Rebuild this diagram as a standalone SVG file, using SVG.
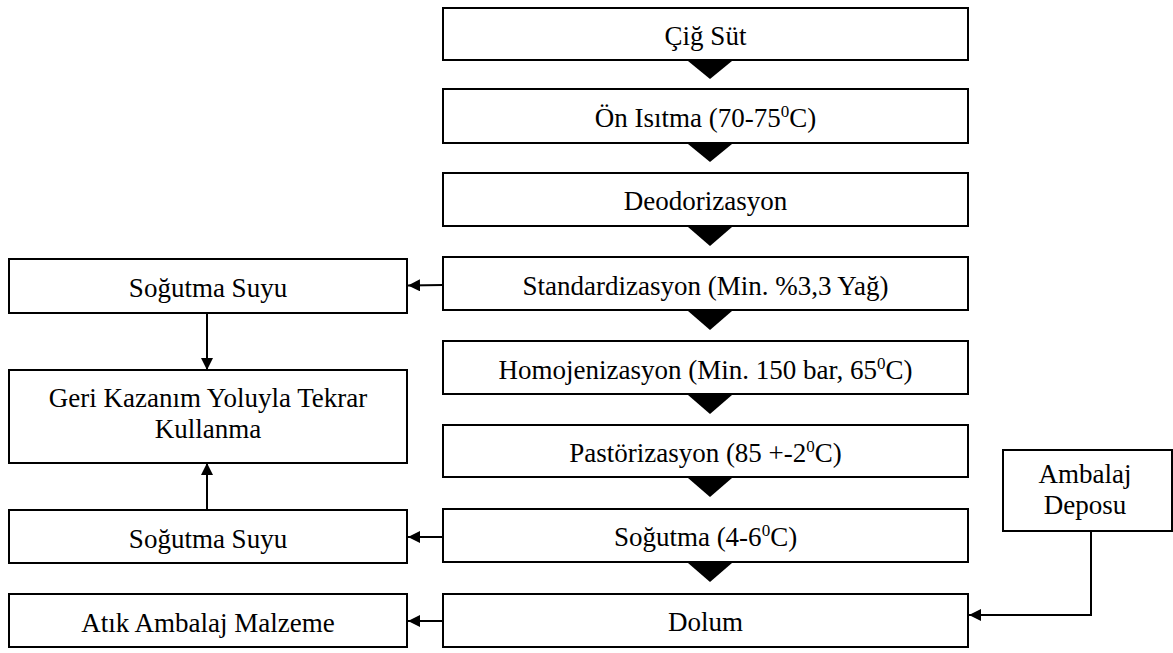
<svg xmlns="http://www.w3.org/2000/svg" width="1173" height="653" viewBox="0 0 1173 653">
<style>
.b{fill:#fff;stroke:#000;stroke-width:2}
.t{font-family:"Liberation Serif","Times New Roman",serif;font-size:27px;fill:#000;text-anchor:middle}
.s{font-size:17px}
.c{fill:none;stroke:#000;stroke-width:2}
.tri{fill:#000}
</style>
<defs>
<marker id="ah" viewBox="0 0 10 10" refX="10" refY="5" markerWidth="6" markerHeight="6" orient="auto" markerUnits="strokeWidth"><path d="M0,0 L10,5 L0,10 z" fill="#000"/></marker>
</defs>
<rect width="1173" height="653" fill="#fff"/>
<g id="connectors">
<polygon class="tri" points="688,61 732,61 710,79"/>
<polygon class="tri" points="688,144 732,144 710,162"/>
<polygon class="tri" points="688,227 732,227 710,246"/>
<polygon class="tri" points="688,311 732,311 710,330"/>
<polygon class="tri" points="688,395 732,395 710,414"/>
<polygon class="tri" points="688,478 732,478 710,497"/>
<polygon class="tri" points="688,563 732,563 710,582"/>
<path class="c" d="M443,285 L408,285.5" marker-end="url(#ah)"/>
<path class="c" d="M443,537 L408,537" marker-end="url(#ah)"/>
<path class="c" d="M443,621 L408,621" marker-end="url(#ah)"/>
<path class="c" d="M207,313 L207,370" marker-end="url(#ah)"/>
<path class="c" d="M207,510 L207,463" marker-end="url(#ah)"/>
<path class="c" d="M1091,531 L1091,615 L969,615" marker-end="url(#ah)"/>
</g>
<g id="n1"><rect class="b" x="443" y="8" width="525" height="52"/><text class="t" x="705.5" y="45">Çiğ Süt</text></g>
<g id="n2"><rect class="b" x="443" y="89" width="525" height="54"/><text class="t" x="705.5" y="126.5">Ön Isıtma (70-75<tspan class="s" dy="-10">0</tspan><tspan dy="10">C)</tspan></text></g>
<g id="n3"><rect class="b" x="443" y="173" width="525" height="53"/><text class="t" x="705.5" y="210">Deodorizasyon</text></g>
<g id="n4"><rect class="b" x="443" y="257" width="525" height="53"/><text class="t" x="705.5" y="294.5">Standardizasyon (Min. %3,3 Yağ)</text></g>
<g id="n5"><rect class="b" x="443" y="341" width="525" height="53"/><text class="t" x="705.5" y="378.5">Homojenizasyon (Min. 150 bar, 65<tspan class="s" dy="-10">0</tspan><tspan dy="10">C)</tspan></text></g>
<g id="n6"><rect class="b" x="443" y="425" width="525" height="52"/><text class="t" x="705.5" y="462">Pastörizasyon (85 +-2<tspan class="s" dy="-10">0</tspan><tspan dy="10">C)</tspan></text></g>
<g id="n7"><rect class="b" x="443" y="509" width="525" height="53"/><text class="t" x="705.5" y="546">Soğutma (4-6<tspan class="s" dy="-10">0</tspan><tspan dy="10">C)</tspan></text></g>
<g id="n8"><rect class="b" x="443" y="594" width="525" height="53"/><text class="t" x="705.5" y="631">Dolum</text></g>
<g id="l1"><rect class="b" x="9" y="259" width="398" height="54"/><text class="t" x="208" y="297">Soğutma Suyu</text></g>
<g id="l2"><rect class="b" x="9" y="370" width="398" height="93"/><text class="t" x="208" y="407">Geri Kazanım Yoluyla Tekrar</text><text class="t" x="208" y="438">Kullanma</text></g>
<g id="l3"><rect class="b" x="9" y="510" width="398" height="53"/><text class="t" x="208" y="547.5">Soğutma Suyu</text></g>
<g id="l4"><rect class="b" x="9" y="594" width="398" height="53"/><text class="t" x="208" y="631.5">Atık Ambalaj Malzeme</text></g>
<g id="amb"><rect class="b" x="1003" y="450" width="169" height="81"/><text class="t" x="1085" y="483">Ambalaj</text><text class="t" x="1085" y="514">Deposu</text></g>
</svg>
